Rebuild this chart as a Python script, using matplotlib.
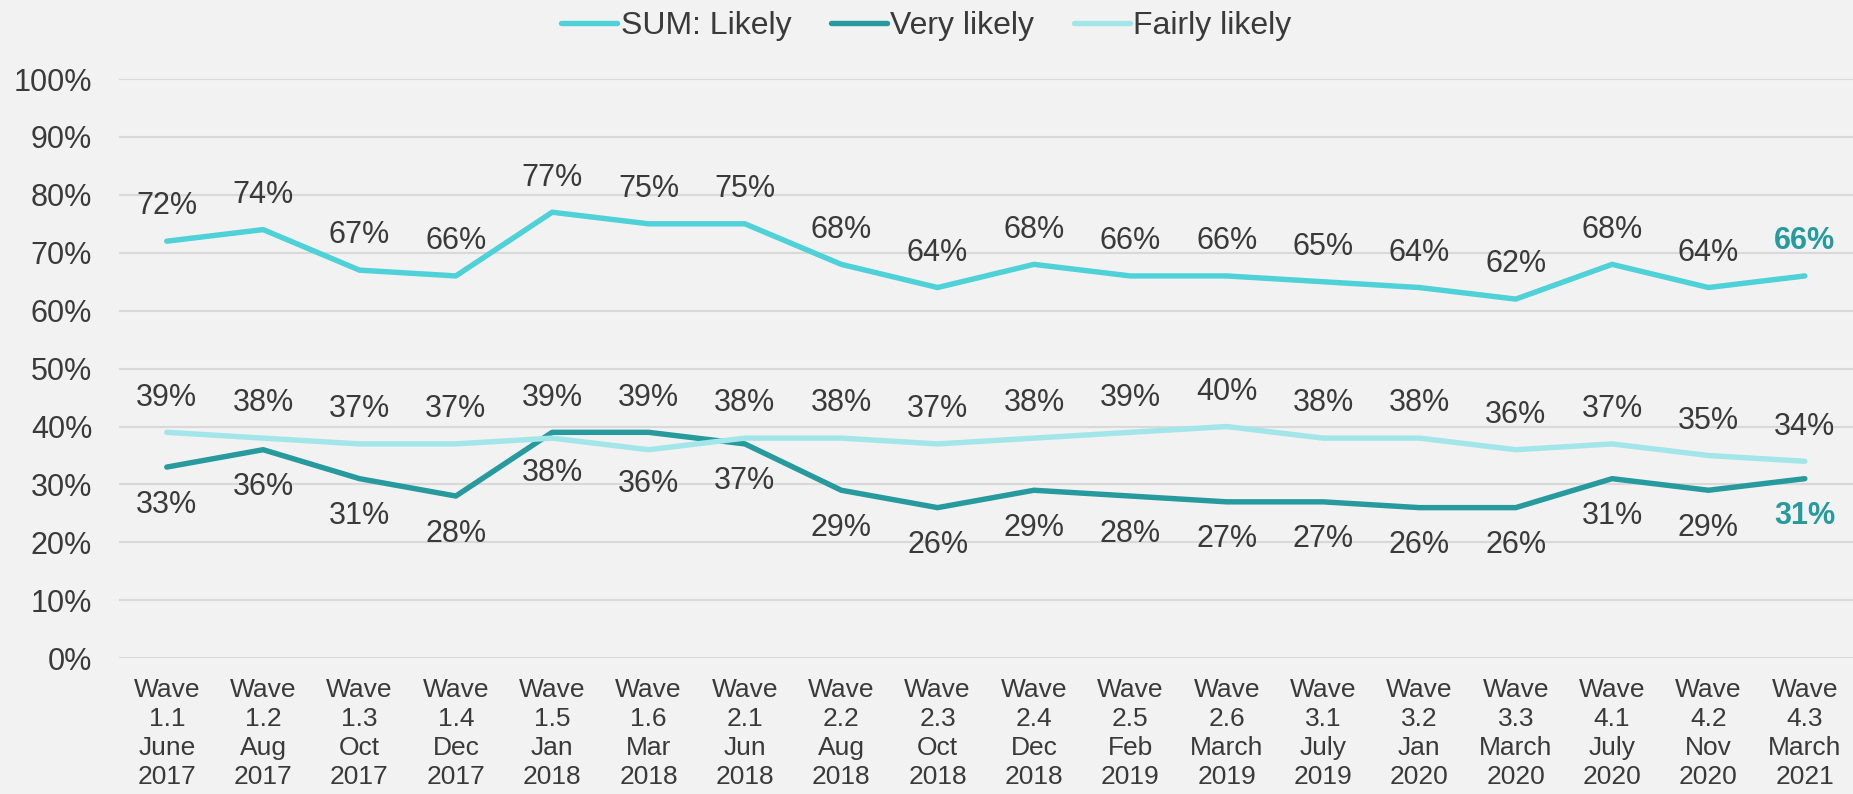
import matplotlib
matplotlib.use('Agg')
import matplotlib.pyplot as plt

waves = ['1.1', '1.2', '1.3', '1.4', '1.5', '1.6', '2.1', '2.2', '2.3',
         '2.4', '2.5', '2.6', '3.1', '3.2', '3.3', '4.1', '4.2', '4.3']
months = ['June', 'Aug', 'Oct', 'Dec', 'Jan', 'Mar', 'Jun', 'Aug', 'Oct',
          'Dec', 'Feb', 'March', 'July', 'Jan', 'March', 'July', 'Nov', 'March']
years = ['2017', '2017', '2017', '2017', '2018', '2018', '2018', '2018', '2018',
         '2018', '2019', '2019', '2019', '2020', '2020', '2020', '2020', '2021']

sum_likely = [72, 74, 67, 66, 77, 75, 75, 68, 64, 68, 66, 66, 65, 64, 62, 68, 64, 66]
very_likely = [33, 36, 31, 28, 39, 39, 37, 29, 26, 29, 28, 27, 27, 26, 26, 31, 29, 31]
fairly_likely = [39, 38, 37, 37, 38, 36, 38, 38, 37, 38, 39, 40, 38, 38, 36, 37, 35, 34]

c_sum = '#4ed1d7'
c_very = '#269a9c'
c_fair = '#a2e6ea'
bg = '#f2f2f2'
txt = '#3a3a3a'

plt.rcParams['font.family'] = ['Liberation Sans', 'DejaVu Sans']

fig = plt.figure(figsize=(18.53, 7.94), dpi=100, facecolor=bg)
ax = fig.add_axes([0.064, 0.171, 0.936, 0.7295], facecolor=bg)

x = list(range(len(waves)))
ax.plot(x, sum_likely, color=c_sum, lw=3.9, label='SUM: Likely', solid_capstyle='round')
ax.plot(x, very_likely, color=c_very, lw=3.9, label='Very likely', solid_capstyle='round')
ax.plot(x, fairly_likely, color=c_fair, lw=3.9, label='Fairly likely', solid_capstyle='round')

fs = 22
last = len(x) - 1
for i in x:
    bold = i == last
    col = c_very if bold else txt
    fw = 'bold' if bold else 'normal'
    ax.annotate(f'{sum_likely[i]}%', (i, sum_likely[i]), xytext=(0, 25),
                textcoords='offset points', ha='center', va='center',
                fontsize=fs, color=col, fontweight=fw)
    # the higher of the two lower series gets its label above the line
    fair_up = fairly_likely[i] >= very_likely[i]
    ax.annotate(f'{fairly_likely[i]}%', (i, fairly_likely[i]),
                xytext=(0, 25 if fair_up else -25), textcoords='offset points',
                ha='center', va='center', fontsize=fs, color=txt)
    ax.annotate(f'{very_likely[i]}%', (i, very_likely[i]),
                xytext=(0, -27 if fair_up else 25), textcoords='offset points',
                ha='center', va='center', fontsize=fs, color=col, fontweight=fw)

ax.set_xlim(-0.5, len(x) - 0.5)
ax.set_ylim(0, 100)
ax.set_yticks(range(0, 101, 10))
ax.set_yticklabels([f'{v}%' for v in range(0, 101, 10)], fontsize=fs, color=txt)
ax.set_xticks(x)
ax.set_xticklabels([f'Wave\n{w}\n{m}\n{y}' for w, m, y in zip(waves, months, years)],
                   fontsize=19, color=txt, linespacing=1.27)
ax.tick_params(axis='both', length=0)
ax.tick_params(axis='x', pad=14)
ax.tick_params(axis='y', pad=19)
ax.grid(axis='y', color='#d9d9d9', lw=1.5)
ax.set_axisbelow(True)
for s in ax.spines.values():
    s.set_visible(False)

fig.legend(loc='upper center', bbox_to_anchor=(0.5, 1.022), ncol=3, frameon=False,
           fontsize=23, handlelength=1.75, handletextpad=0.1, columnspacing=1.25,
           labelcolor=txt)

fig.savefig('out.png', dpi=100, facecolor=bg)
